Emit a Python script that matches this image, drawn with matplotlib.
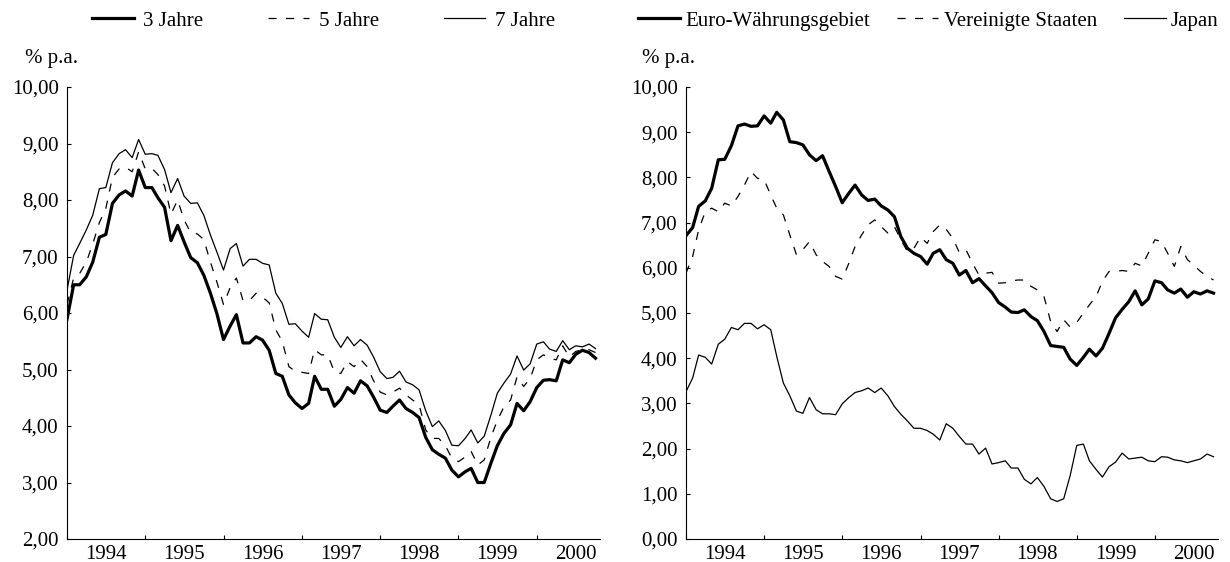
import pandas as pd
import matplotlib
matplotlib.use("Agg")
import matplotlib.pyplot as plt
import matplotlib.dates as mdates
from matplotlib.ticker import FuncFormatter, MultipleLocator

plt.rcParams["font.family"] = ["Liberation Serif", "DejaVu Serif"]

# monthly yields, Jan 1994 - Oct 2000 (% p.a.)
months = pd.date_range("1994-01-01", periods=82, freq="MS")

jahre_3 = [5.89, 6.50, 6.50, 6.64, 6.90, 7.34, 7.39, 7.94, 8.09, 8.16, 8.07, 8.53,
           8.22, 8.22, 8.04, 7.87, 7.28, 7.55, 7.26, 6.98, 6.89, 6.67, 6.35, 5.99,
           5.53, 5.77, 5.97, 5.47, 5.47, 5.58, 5.52, 5.34, 4.93, 4.88, 4.55, 4.41,
           4.31, 4.40, 4.88, 4.65, 4.65, 4.35, 4.47, 4.68, 4.58, 4.80, 4.71, 4.51,
           4.28, 4.24, 4.35, 4.46, 4.31, 4.24, 4.15, 3.80, 3.58, 3.50, 3.43, 3.22,
           3.10, 3.19, 3.25, 3.00, 3.00, 3.34, 3.65, 3.87, 4.02, 4.40, 4.27, 4.43,
           4.68, 4.81, 4.82, 4.80, 5.17, 5.12, 5.27, 5.34, 5.30, 5.20]

jahre_5 = [6.15, 6.62, 6.70, 6.90, 7.22, 7.60, 7.85, 8.40, 8.55, 8.58, 8.50, 8.85,
           8.55, 8.56, 8.45, 8.25, 7.75, 8.00, 7.65, 7.42, 7.40, 7.30, 6.90, 6.55,
           6.15, 6.45, 6.62, 6.22, 6.22, 6.35, 6.28, 6.18, 5.70, 5.50, 5.05, 4.97,
           4.95, 4.93, 5.35, 5.26, 5.26, 4.96, 4.93, 5.14, 5.05, 5.18, 5.05, 4.80,
           4.60, 4.55, 4.60, 4.67, 4.55, 4.46, 4.38, 3.93, 3.78, 3.78, 3.65, 3.43,
           3.37, 3.45, 3.55, 3.31, 3.40, 3.80, 4.10, 4.34, 4.46, 4.87, 4.70, 4.84,
           5.17, 5.26, 5.20, 5.17, 5.42, 5.22, 5.32, 5.35, 5.35, 5.30]

jahre_7 = [6.40, 7.02, 7.23, 7.47, 7.73, 8.20, 8.22, 8.66, 8.82, 8.89, 8.75, 9.07,
           8.81, 8.82, 8.79, 8.54, 8.13, 8.38, 8.07, 7.94, 7.95, 7.73, 7.38, 7.08,
           6.76, 7.14, 7.23, 6.83, 6.95, 6.95, 6.88, 6.85, 6.35, 6.17, 5.80, 5.81,
           5.68, 5.57, 5.99, 5.89, 5.88, 5.57, 5.39, 5.58, 5.42, 5.53, 5.43, 5.22,
           4.96, 4.84, 4.86, 4.97, 4.78, 4.73, 4.64, 4.27, 3.99, 4.09, 3.92, 3.66,
           3.65, 3.78, 3.93, 3.70, 3.82, 4.19, 4.58, 4.76, 4.92, 5.24, 4.99, 5.10,
           5.45, 5.49, 5.36, 5.32, 5.51, 5.35, 5.42, 5.40, 5.45, 5.37]

euro = [6.71, 6.89, 7.36, 7.48, 7.76, 8.39, 8.40, 8.70, 9.14, 9.18, 9.13, 9.14,
        9.36, 9.20, 9.44, 9.27, 8.79, 8.77, 8.72, 8.50, 8.37, 8.48, 8.13, 7.80,
        7.44, 7.65, 7.83, 7.61, 7.49, 7.52, 7.37, 7.28, 7.13, 6.69, 6.43, 6.32,
        6.25, 6.08, 6.32, 6.40, 6.18, 6.10, 5.84, 5.94, 5.67, 5.76, 5.60, 5.45,
        5.23, 5.13, 5.02, 5.01, 5.07, 4.92, 4.83, 4.59, 4.28, 4.26, 4.24, 3.98,
        3.84, 4.02, 4.20, 4.05, 4.22, 4.55, 4.89, 5.08, 5.25, 5.49, 5.18, 5.31,
        5.71, 5.67, 5.51, 5.44, 5.53, 5.35, 5.47, 5.42, 5.49, 5.44]

usa = [5.88, 6.25, 6.84, 7.24, 7.32, 7.24, 7.43, 7.37, 7.58, 7.83, 8.13, 7.98,
       7.95, 7.61, 7.32, 7.17, 6.73, 6.29, 6.40, 6.58, 6.29, 6.14, 6.03, 5.81,
       5.75, 6.10, 6.47, 6.73, 6.95, 7.06, 6.91, 6.77, 6.91, 6.62, 6.36, 6.43,
       6.68, 6.54, 6.80, 6.95, 6.85, 6.65, 6.34, 6.40, 6.10, 5.84, 5.88, 5.90,
       5.66, 5.67, 5.71, 5.73, 5.73, 5.59, 5.51, 5.36, 4.81, 4.59, 4.85, 4.69,
       4.79, 5.00, 5.18, 5.36, 5.70, 5.92, 5.92, 5.94, 5.92, 6.10, 6.04, 6.32,
       6.62, 6.58, 6.32, 6.03, 6.47, 6.18, 6.06, 5.92, 5.81, 5.73]

japan = [3.26, 3.56, 4.07, 4.02, 3.87, 4.31, 4.42, 4.68, 4.63, 4.77, 4.77, 4.65,
         4.74, 4.63, 4.04, 3.45, 3.17, 2.83, 2.78, 3.13, 2.86, 2.77, 2.77, 2.75,
         2.99, 3.13, 3.24, 3.28, 3.34, 3.24, 3.34, 3.17, 2.93, 2.76, 2.61, 2.45,
         2.45, 2.40, 2.32, 2.19, 2.55, 2.45, 2.27, 2.10, 2.10, 1.88, 2.01, 1.66,
         1.69, 1.73, 1.57, 1.57, 1.32, 1.22, 1.36, 1.16, 0.89, 0.83, 0.89, 1.40,
         2.07, 2.10, 1.73, 1.54, 1.37, 1.60, 1.70, 1.90, 1.77, 1.79, 1.81, 1.73,
         1.71, 1.82, 1.81, 1.75, 1.73, 1.69, 1.73, 1.77, 1.88, 1.82]

labels_left = ["3 Jahre", "5 Jahre", "7 Jahre"]
labels_right = ["Euro-Währungsgebiet", "Vereinigte Staaten", "Japan"]

W, H = 1230, 562
fs = 15

fig = plt.figure(figsize=(W / 100, H / 100), dpi=100)
ax1 = fig.add_axes([67 / W, 1 - 539 / H, 533 / W, 452 / H])
ax2 = fig.add_axes([686 / W, 1 - 539 / H, 532 / W, 452 / H])

thick = dict(color="black", lw=2.3)
dash = dict(color="black", lw=0.9, dashes=(6.5, 7.5))
thin = dict(color="black", lw=0.9)

ax1.plot(months, jahre_3, label=labels_left[0], **thick)
ax1.plot(months, jahre_5, label=labels_left[1], **dash)
ax1.plot(months, jahre_7, label=labels_left[2], **thin)
ax1.set_ylim(2, 10)

ax2.plot(months, euro, label=labels_right[0], **thick)
ax2.plot(months, usa, label=labels_right[1], **dash)
ax2.plot(months, japan, label=labels_right[2], **thin)
ax2.set_ylim(0, 10)

fmt = FuncFormatter(lambda v, p: f"{v:.2f}".replace(".", ","))
for ax in (ax1, ax2):
    ax.set_xlim(pd.Timestamp("1994-01-01"), pd.Timestamp("2000-10-22"))
    ax.spines["top"].set_visible(False)
    ax.spines["right"].set_visible(False)
    ax.yaxis.set_major_locator(MultipleLocator(1))
    ax.yaxis.set_major_formatter(fmt)
    ax.xaxis.set_major_locator(mdates.YearLocator())
    ax.xaxis.set_major_formatter(plt.NullFormatter())
    ax.xaxis.set_minor_locator(mdates.MonthLocator(bymonth=7))
    ax.xaxis.set_minor_formatter(mdates.DateFormatter("%Y"))
    ax.tick_params(axis="both", which="major", direction="in", length=3, width=0.8, labelsize=fs)
    ax.tick_params(axis="y", which="major", pad=6)
    ax.tick_params(axis="x", which="minor", length=0, labelsize=fs, pad=4)

fig.text(25 / W, 1 - 58 / H, "% p.a.", fontsize=fs, va="center")
fig.text(642 / W, 1 - 58 / H, "% p.a.", fontsize=fs, va="center")

h1, l1 = ax1.get_legend_handles_labels()
h2, l2 = ax2.get_legend_handles_labels()
fig.legend(h1, l1, loc="center left", bbox_to_anchor=(92 / W, 1 - 21 / H), ncol=3,
           frameon=False, fontsize=fs, handlelength=2.0, columnspacing=3.1,
           handletextpad=0.45, borderpad=0, borderaxespad=0)
fig.legend(h2, l2, loc="center left", bbox_to_anchor=(638 / W, 1 - 21 / H), ncol=3,
           frameon=False, fontsize=fs, handlelength=2.0, columnspacing=1.3,
           handletextpad=0.25, borderpad=0, borderaxespad=0)

fig.savefig("out.png", dpi=100)
